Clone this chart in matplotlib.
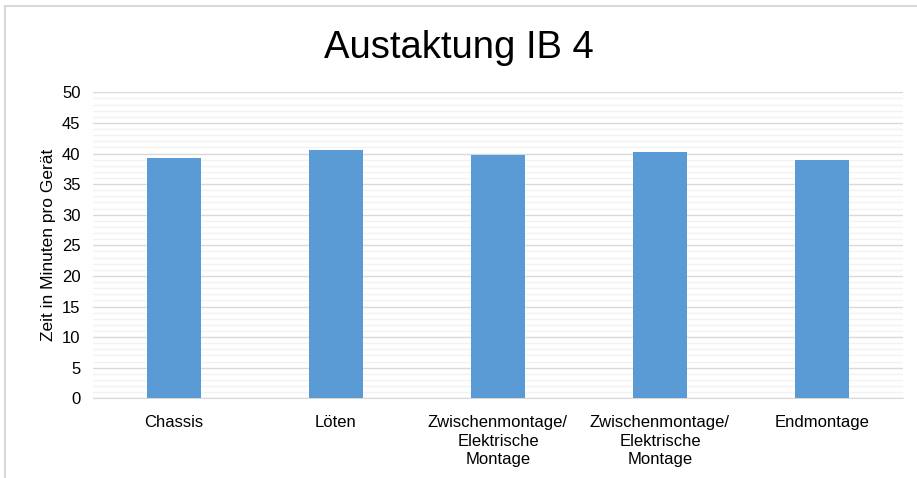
import matplotlib.pyplot as plt
from matplotlib.patches import Rectangle

plt.rcParams['font.family'] = ['Liberation Sans', 'DejaVu Sans']

categories = ['Chassis', 'Löten', 'Zwischenmontage/\nElektrische\nMontage',
              'Zwischenmontage/\nElektrische\nMontage', 'Endmontage']
values = [39.3, 40.5, 39.8, 40.3, 38.9]

fig = plt.figure(figsize=(9.17, 4.78), dpi=100)
ax = fig.add_axes([0.1014, 0.1667, 0.8833, 0.6402])

x = list(range(len(categories)))
ax.bar(x, values, width=1/3, color='#5B9BD5', zorder=3)

ax.set_xlim(-0.5, len(categories) - 0.5)
ax.set_ylim(0, 50)
ax.set_yticks(range(0, 51, 5))
ax.set_yticks(range(0, 51, 1), minor=True)
ax.grid(which='major', axis='y', color='#d9d9d9', lw=1, zorder=0)
ax.grid(which='minor', axis='y', color='#f2f2f2', lw=1, zorder=0)
ax.tick_params(which='both', length=0)
ax.tick_params(axis='y', labelsize=12, pad=9, colors='#000000')
ax.tick_params(axis='x', labelsize=12, pad=12)
ax.set_xticks(x)
ax.set_xticklabels(categories, linespacing=1.3)
for sp in ['top', 'right', 'left']:
    ax.spines[sp].set_visible(False)
ax.spines['bottom'].set_color('#d9d9d9')

ax.set_ylabel('Zeit in Minuten pro Gerät', fontsize=12.5, labelpad=4)
fig.text(0.5, 0.9, 'Austaktung IB 4', ha='center', va='center', fontsize=27.5)

fig.patches.append(Rectangle((5/917, -0.1), 1.2, 1 - 6/478 + 0.1, transform=fig.transFigure,
                             fill=False, edgecolor='#d9d9d9', lw=1.5))

fig.savefig('out.png', dpi=100)
